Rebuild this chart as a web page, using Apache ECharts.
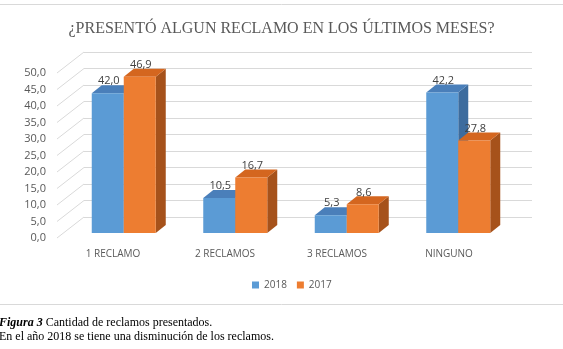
<!DOCTYPE html>
<html>
<head>
<meta charset="utf-8">
<script src="https://cdn.jsdelivr.net/npm/echarts@6/dist/echarts.min.js"></script>
<style>
  html, body { margin: 0; padding: 0; background: #fff; }
  #chart { width: 563px; height: 349px; }
</style>
</head>
<body>
<div id="chart"></div>
<script>
// datos
const categorias = ['1 RECLAMO', '2 RECLAMOS', '3 RECLAMOS', 'NINGUNO'];
const serie2018 = [42.0, 10.5, 5.3, 42.2];
const serie2017 = [46.9, 16.7, 8.6, 27.8];
const ticksY = [0, 5, 10, 15, 20, 25, 30, 35, 40, 45, 50];

const chart = echarts.init(document.getElementById('chart'));

const DX = 10, DY = -8, BW = 32;   // profundidad de las barras
const WX = 27, WY = -21;           // profundidad de la pared izquierda

const colores = [
  { front: '#5B9BD5', top: '#4A7FBA', side: '#3D6C9E' },
  { front: '#ED7D31', top: '#D4661F', side: '#A6521B' },
];

function coma(v) {
  return v.toFixed(1).replace('.', ',');
}

function barra3d(s) {
  return function (params, api) {
    const idx = api.value(0);
    const val = api.value(1);
    const top = api.coord([idx, val]);
    const base = api.coord([idx, 0]);
    const x0 = top[0] - BW + s * BW;
    const yt = top[1], yb = base[1];
    const c = colores[s];
    return {
      type: 'group',
      children: [
        { type: 'polygon', shape: { points: [[x0 + BW, yt], [x0 + BW + DX, yt + DY], [x0 + BW + DX, yb + DY], [x0 + BW, yb]] }, style: { fill: c.side } },
        { type: 'polygon', shape: { points: [[x0, yt], [x0 + DX, yt + DY], [x0 + BW + DX, yt + DY], [x0 + BW, yt]] }, style: { fill: c.top } },
        { type: 'rect', shape: { x: x0, y: yt, width: BW, height: yb - yt }, style: { fill: c.front } },
        { type: 'text', x: x0 + BW / 2 + 1, y: yt - 12, style: { text: coma(val), fill: '#404040', font: '11px "Open Sans"', align: 'center', verticalAlign: 'middle' } },
      ],
    };
  };
}

chart.setOption({
  animation: false,
  title: {
    text: '¿PRESENTÓ ALGUN RECLAMO EN LOS ÚLTIMOS MESES?',
    left: 'center',
    top: 16,
    textStyle: { fontFamily: 'Liberation Serif', fontSize: 16, fontWeight: 'normal', color: '#595959' },
  },
  legend: {
    data: ['2018', '2017'],
    left: 247,
    top: 275,
    icon: 'rect',
    itemWidth: 7,
    itemHeight: 7,
    itemGap: 10,
    textStyle: { fontFamily: 'Open Sans', fontSize: 10, color: '#595959' },
  },
  grid: [
    { left: 84, right: 31, top: 52, bottom: 132 },   // pared del fondo
    { left: 57, right: 58, top: 73, bottom: 111 },   // plano frontal
    { left: 68, right: 49, top: 66.5, bottom: 116 }, // plano de las barras
  ],
  xAxis: [
    { gridIndex: 0, type: 'category', data: categorias, show: false },
    {
      gridIndex: 1, type: 'category', data: categorias,
      axisLine: { show: false }, axisTick: { show: false },
      axisLabel: { margin: 11, fontFamily: 'Open Sans', fontSize: 10, color: '#595959' },
    },
    { gridIndex: 2, type: 'category', data: categorias, show: false },
  ],
  yAxis: [
    {
      gridIndex: 0, type: 'value', min: 0, max: 50, interval: 5,
      axisLabel: { show: false }, axisLine: { show: false }, axisTick: { show: false },
      splitLine: { lineStyle: { color: '#d9d9d9', width: 1 } },
    },
    {
      gridIndex: 1, type: 'value', min: 0, max: 50, interval: 5,
      axisLine: { show: false }, axisTick: { show: false }, splitLine: { show: false },
      axisLabel: { margin: 11, fontFamily: 'Open Sans', fontSize: 11, color: '#595959', formatter: coma },
    },
    { gridIndex: 2, type: 'value', min: 0, max: 50, show: false, splitLine: { show: false } },
  ],
  series: [
    {
      // diagonales de la pared izquierda
      type: 'custom',
      xAxisIndex: 1,
      yAxisIndex: 1,
      silent: true,
      data: ticksY.map((v) => [0, v]),
      renderItem(params, api) {
        const y = api.coord([0, api.value(1)])[1];
        const x = params.coordSys.x;
        return {
          type: 'line',
          shape: { x1: x, y1: y, x2: x + WX, y2: y + WY },
          style: { stroke: '#d9d9d9', lineWidth: 1 },
        };
      },
    },
    {
      name: '2018',
      type: 'custom',
      xAxisIndex: 2,
      yAxisIndex: 2,
      itemStyle: { color: colores[0].front },
      data: serie2018.map((v, i) => [i, v]),
      renderItem: barra3d(0),
    },
    {
      name: '2017',
      type: 'custom',
      xAxisIndex: 2,
      yAxisIndex: 2,
      itemStyle: { color: colores[1].front },
      data: serie2017.map((v, i) => [i, v]),
      renderItem: barra3d(1),
    },
  ],
  graphic: [
    { type: 'line', shape: { x1: 0, y1: 4.5, x2: 563, y2: 4.5 }, style: { stroke: '#d9d9d9', lineWidth: 1 } },
    { type: 'line', shape: { x1: 0, y1: 304.5, x2: 563, y2: 304.5 }, style: { stroke: '#d9d9d9', lineWidth: 1 } },
    {
      type: 'text', left: -1, top: 317,
      style: {
        text: '{b|Figura 3} Cantidad de reclamos presentados.',
        font: '12px "Liberation Serif"', fill: '#000',
        rich: { b: { fontFamily: 'Liberation Serif', fontSize: 12, fontWeight: 'bold', fontStyle: 'italic', fill: '#000' } },
      },
    },
    {
      type: 'text', left: -1, top: 331,
      style: { text: 'En el año 2018 se tiene una disminución de los reclamos.', font: '12px "Liberation Serif"', fill: '#000' },
    },
  ],
});
</script>
</body>
</html>
